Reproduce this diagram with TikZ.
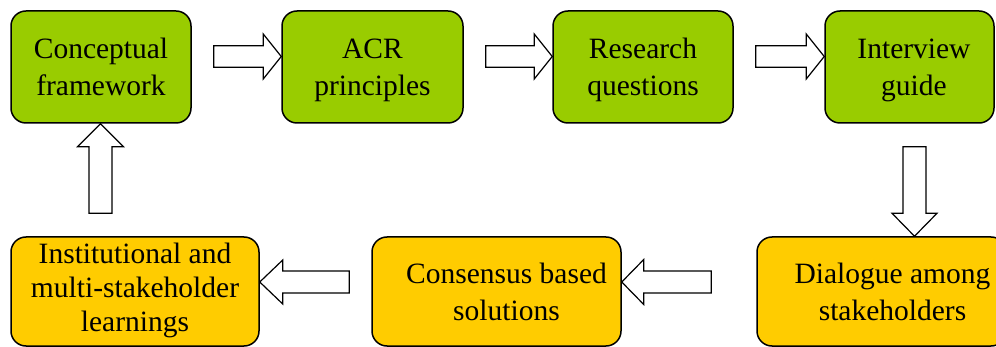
\documentclass[tikz,border=0pt]{standalone}
\usepackage{fontspec}
\setmainfont{Liberation Serif}
\usetikzlibrary{calc}
\definecolor{boxgreen}{HTML}{99CC00}
\definecolor{boxgold}{HTML}{FFCC00}
% line struts so that every box places its baselines the same way
\newcommand\tstrut{\rule[-7.5pt]{0pt}{35.5pt}}
\newcommand\ustrut{\rule[-9pt]{0pt}{30pt}}
\tikzset{
  box/.style={draw=black, line width=1.5pt, rounded corners=15pt, align=center,
    font=\fontsize{29.5}{34.5}\selectfont, inner sep=0pt},
  greenbox/.style={box, fill=boxgreen, minimum width=#1, minimum height=112pt},
  goldbox/.style={box, fill=boxgold, minimum width=#1, minimum height=109pt},
  arrowbox/.style={draw=black, fill=white, line width=1.2pt, line join=miter}
}
% #1 tail, #2 tip, #3 shaft half width, #4 head half width, #5 head length
\newcommand\blockarrow[5]{%
  \coordinate (hb) at ($(#2)!#5!(#1)$);
  \draw[arrowbox] ($(#1)!#3!90:(#2)$) -- ($(hb)!#3!90:(#2)$) -- ($(hb)!#4!90:(#2)$)
    -- (#2) -- ($(hb)!#4!-90:(#2)$) -- ($(hb)!#3!-90:(#2)$) -- ($(#1)!#3!-90:(#2)$) -- cycle;
}
\begin{document}
\begin{tikzpicture}[x=1pt,y=-1pt]
\useasboundingbox (0,0) rectangle (996,347);
\clip (0,0) rectangle (996,347);
% top row
\node[greenbox=180pt] (c1) at (101,67) {\tstrut Conceptual\\\tstrut framework};
\node[greenbox=181pt] (c2) at (372.5,67) {\tstrut ACR\\\tstrut principles};
\node[greenbox=180pt] (c3) at (643,67) {\tstrut Research\\\tstrut questions};
\node[greenbox=169pt] (c4) at (909.5,67) {\hspace*{9pt}\tstrut Interview\\\hspace*{9pt}\tstrut guide};
% bottom row
\node[goldbox=248pt] (b1) at (135,291.5) {\ustrut Institutional and\\multi-stakeholder\\\ustrut learnings};
\node[goldbox=249pt] (b2) at (496.5,291.5) {\hspace*{20pt}\tstrut Consensus based\\\hspace*{20pt}\tstrut solutions};
\node[goldbox=249pt] (b3) at (881.5,291.5) {\hspace*{22pt}\tstrut Dialogue among\\\hspace*{22pt}\tstrut stakeholders};
% arrows
\coordinate (a1s) at ($(c1.east)+(22,-10.5)$);
\coordinate (a1e) at ($(c2.west)+(0,-10.5)$);
\blockarrow{a1s}{a1e}{10.8pt}{22.5pt}{18pt}
\coordinate (a2s) at ($(c2.east)+(22,-10.5)$);
\coordinate (a2e) at ($(c3.west)+(0,-10.5)$);
\blockarrow{a2s}{a2e}{10.8pt}{22.5pt}{18pt}
\coordinate (a3s) at ($(c3.east)+(22,-10.5)$);
\coordinate (a3e) at ($(c4.west)+(0,-10.5)$);
\blockarrow{a3s}{a3e}{10.8pt}{22.5pt}{18pt}
\coordinate (a4s) at ($(c4.south)+(5,23)$);
\coordinate (a4e) at (a4s |- b3.north);
\blockarrow{a4s}{a4e}{11.5pt}{22.5pt}{23pt}
\coordinate (a5s) at ($(b3.west)+(-45,-9.5)$);
\coordinate (a5e) at (b2.east |- a5s);
\blockarrow{a5s}{a5e}{11pt}{22.5pt}{22pt}
\coordinate (a6s) at ($(b2.west)+(-22,-9.5)$);
\coordinate (a6e) at (b1.east |- a6s);
\blockarrow{a6s}{a6e}{11pt}{22pt}{23pt}
\coordinate (a7s) at ($(b1.north)+(-34.5,-23)$);
\coordinate (a7e) at (a7s |- c1.south);
\blockarrow{a7s}{a7e}{11.5pt}{23pt}{23pt}
\end{tikzpicture}
\end{document}
